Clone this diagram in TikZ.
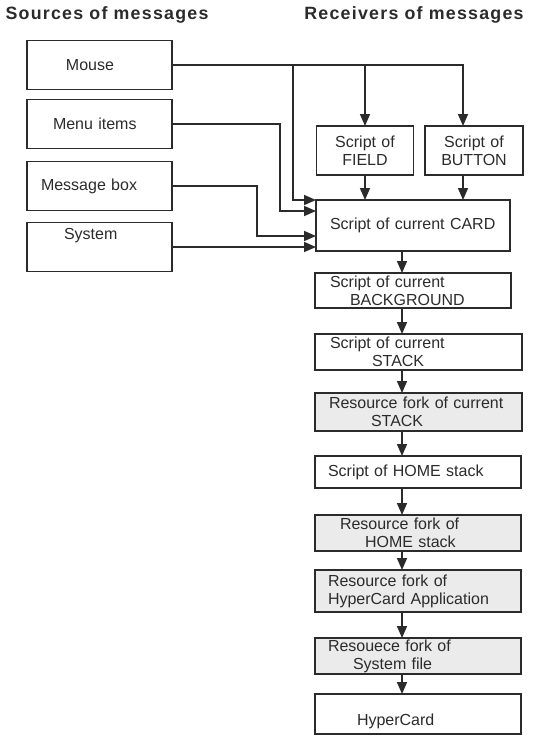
\documentclass[tikz,border=0pt]{standalone}
\usepackage{fontspec}
\setmainfont{Liberation Sans}
\newfontfamily\headfont[LetterSpace=7]{Liberation Sans}
\usepackage{tikz}
\usetikzlibrary{arrows.meta,positioning}
\definecolor{ink}{HTML}{2B2B2B}
\definecolor{forkgrey}{HTML}{EBEBEB}
\newcommand{\ind}[1]{\hspace*{#1pt}}

\begin{document}
\begin{tikzpicture}[x=1pt, y=-1pt, ->, >={Triangle[length=12pt,width=10pt]}, line width=1.6pt, ink,
                    font=\fontsize{16}{18}\selectfont]
        \tikzset{
           head/.style={font=\headfont\bfseries\fontsize{17.8}{20}\selectfont},
           src/.style={
                        rectangle,
                        draw=ink,
                        minimum height=49pt,
                        text width=145pt,
                        inner sep=0pt,
                        outer sep=0pt,
                        align=left
                       },
           rcv/.style={
                        rectangle,
                        draw=ink,
                        inner sep=0pt,
                        outer sep=0pt,
                        align=left
                       },
           fork/.style={rcv, fill=forkgrey},
                 };
        \useasboundingbox (0,0) rectangle (533,736);
    %--------------------
        \node[head]      (srchead) at (107,15)   {Sources of messages};
        \node[head]      (rcvhead) at (414,15)   {Receivers of messages};

        \node[src]       (mouse)   at (99.5,65)  {\ind{39}Mouse};
        \node[src]       (menu)    at (99.5,124) {\ind{26}Menu items};
        \node[src]       (msgbox)  at (99.5,186) {\ind{14}Message box};
        \node[src, text depth=27pt] (system) at (99.5,247) {\ind{37}System};

        \node[rcv, text width=97pt, minimum height=49pt, align=center] (field)  at (365,150.5) {Script of\\FIELD};
        \node[rcv, text width=98pt, minimum height=49pt, align=center] (button) at (474,150.5) {Script of\\BUTTON};
        \node[rcv, text width=194pt, minimum height=51pt] (card)    at (413,225.5) {\ind{14}Script of current CARD};
        \node[rcv, text width=196pt, minimum height=35pt] (bg)      at (413,290.5) {\ind{15}Script of current\\\ind{35}BACKGROUND};
        \node[rcv, text width=207pt, minimum height=36pt] (stack)   at (418.5,352) {\ind{15}Script of current\\\ind{57}STACK};
        \node[fork, text width=207pt, minimum height=38pt] (rfstack) at (418.5,412) {\ind{14}Resource fork of current\\\ind{56}STACK};
        \node[rcv, text width=206pt, minimum height=32pt] (home)    at (418,472)   {\ind{13}Script of HOME stack};
        \node[fork, text width=206pt, minimum height=36pt] (rfhome)  at (418,533)   {\ind{25}Resource fork of\\\ind{50}HOME stack};
        \node[fork, text width=206pt, minimum height=42pt] (rfapp)   at (418,591)   {\ind{13}Resource fork of\\\ind{13}HyperCard Application};
        \node[fork, text width=206pt, minimum height=36pt] (rfsys)   at (418,656)   {\ind{13}Resouece fork of\\\ind{38}System file};
        \node[rcv, text width=206pt, minimum height=40pt, text height=26pt] (hcard) at (418,714) {\ind{42}HyperCard};

        \coordinate (msgbus)  at (257,0);
        \coordinate (menubus) at (280,0);
        \coordinate (mbus)    at (293,0);
        \coordinate (spine)   at (402,0);
    %--------------------
        \draw (mouse.east) -| ([xshift=-11pt]button.north);
        \draw (mouse.east -| field.north) -- (field.north);
        \draw (mouse.east -| mbus) |- (card.north west);
        \draw (menu.east) -| ([yshift=-11pt]card.north west -| menubus) -- ([yshift=-11pt]card.north west);
        \draw (msgbox.east) -| ([yshift=-36pt]card.north west -| msgbus) -- ([yshift=-36pt]card.north west);
        \draw (system.east) -- (system.east -| card.west);
        \draw (field.south) -- (field.south |- card.north);
        \draw ([xshift=-11pt]button.south) -- ([xshift=-11pt]button.south |- card.north);
        \foreach \a/\b in {card/bg, bg/stack, stack/rfstack, rfstack/home,
                           home/rfhome, rfhome/rfapp, rfapp/rfsys, rfsys/hcard}
            \draw (\a.south -| spine) -- (\b.north -| spine);
    \end{tikzpicture}
\end{document}
